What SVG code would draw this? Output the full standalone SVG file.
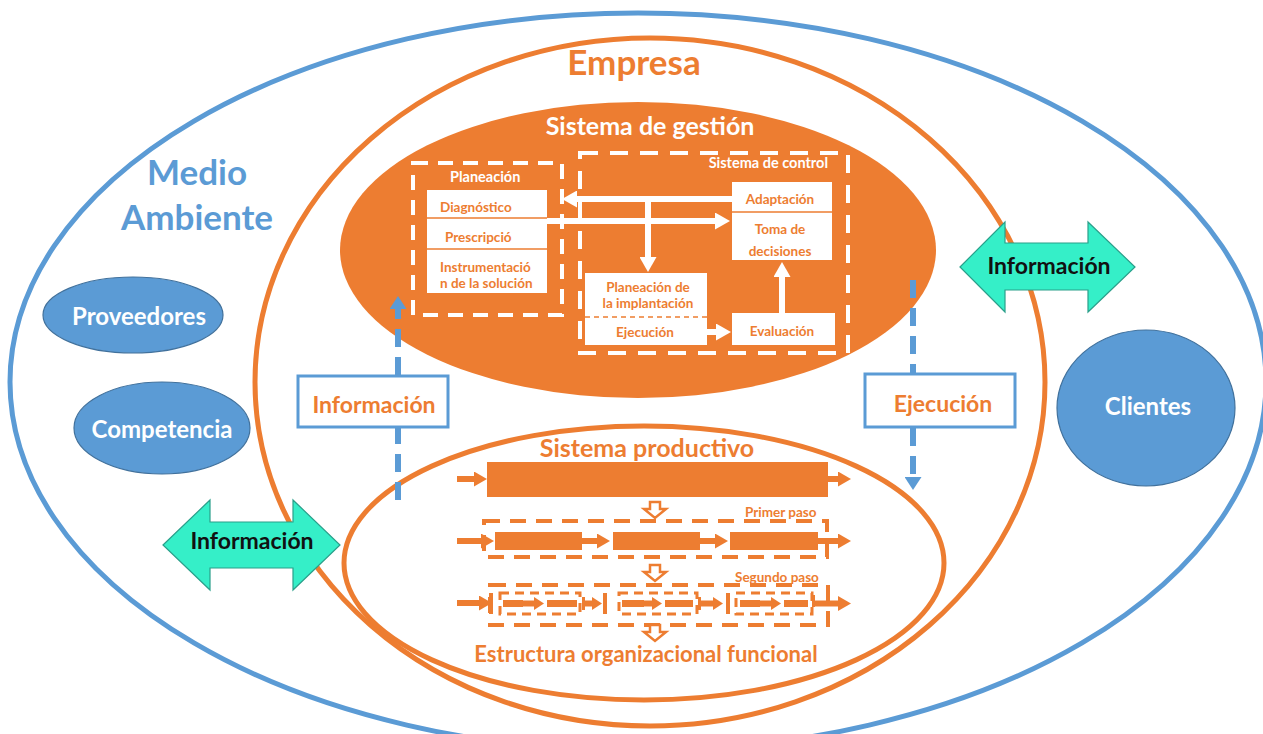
<svg xmlns="http://www.w3.org/2000/svg" width="1263" height="734" viewBox="0 0 1263 734">
<style>
text{font-family:"Lato","Liberation Sans",sans-serif;font-weight:bold}
.or{fill:#ED7D31}
.wh{fill:#ffffff}
.bl{fill:#5B9BD5}
.bk{fill:#111111}
.c{text-anchor:middle}
.wbox{fill:#ffffff;stroke:none}
.wdash{fill:none;stroke:#ffffff;stroke-width:4}
.odash{fill:none;stroke:#ED7D31;stroke-width:4;stroke-dasharray:16 10}
.oline{stroke:#ED7D31;stroke-width:6;fill:none}
.wline{stroke:#ffffff;stroke-width:6;fill:none}
.bdash{stroke:#5B9BD5;stroke-width:6;fill:none;stroke-dasharray:18 10}
.cyan{fill:#35EFC8;stroke:#2a9f8a;stroke-width:1.2}
.bell{fill:#5B9BD5;stroke:#41719C;stroke-width:1.2}
.hollow{fill:#ffffff;stroke:#ED7D31;stroke-width:2.5}
.obar{fill:#ED7D31}
</style>
<defs>
<marker id="wa" viewBox="0 0 10 10" refX="0" refY="5" markerWidth="15" markerHeight="17" markerUnits="userSpaceOnUse" preserveAspectRatio="none" orient="auto"><path d="M0,0 L10,5 L0,10 Z" fill="#ffffff"/></marker>
<marker id="oa" viewBox="0 0 10 10" refX="0" refY="5" markerWidth="13" markerHeight="15" markerUnits="userSpaceOnUse" preserveAspectRatio="none" orient="auto"><path d="M0,0 L10,5 L0,10 Z" fill="#ED7D31"/></marker>
<marker id="osa" viewBox="0 0 10 10" refX="0" refY="5" markerWidth="10" markerHeight="13" markerUnits="userSpaceOnUse" preserveAspectRatio="none" orient="auto"><path d="M0,0 L10,5 L0,10 Z" fill="#ED7D31"/></marker>
<marker id="ba" viewBox="0 0 10 10" refX="0" refY="5" markerWidth="13" markerHeight="17" markerUnits="userSpaceOnUse" preserveAspectRatio="none" orient="auto"><path d="M0,0 L10,5 L0,10 Z" fill="#5B9BD5"/></marker>
</defs>
<rect x="0" y="0" width="1263" height="734" fill="#ffffff"/>

<g id="medio-ambiente">
<ellipse cx="638" cy="382" rx="628" ry="369" fill="none" stroke="#5B9BD5" stroke-width="5"/>
<text class="bl c" x="197" y="185" font-size="35">Medio</text>
<text class="bl c" x="197" y="230" font-size="35">Ambiente</text>
</g>

<g id="empresa">
<ellipse cx="650" cy="382" rx="395" ry="344" fill="none" stroke="#ED7D31" stroke-width="5"/>
<text class="or c" x="634" y="75" font-size="35">Empresa</text>
</g>

<g id="proveedores">
<ellipse class="bell" cx="133" cy="315" rx="90" ry="38"/>
<text class="wh c" x="139" y="325" font-size="24">Proveedores</text>
</g>

<g id="competencia">
<ellipse class="bell" cx="162" cy="428" rx="88" ry="46"/>
<text class="wh c" x="162" y="438" font-size="24">Competencia</text>
</g>

<g id="clientes">
<ellipse class="bell" cx="1146" cy="408" rx="89" ry="78"/>
<text class="wh c" x="1148" y="415" font-size="24">Clientes</text>
</g>

<g id="sistema-gestion">
<ellipse cx="638" cy="250" rx="298" ry="148" fill="#ED7D31"/>
<text class="wh c" x="650" y="135" font-size="25">Sistema de gestión</text>
</g>

<g id="planeacion">
<rect class="wdash" x="413" y="163" width="149" height="152" stroke-dasharray="15 10"/>
<text class="wh" x="450" y="182" font-size="14.5">Planeación</text>
<rect class="wbox" x="427" y="190" width="120" height="103"/>
<line x1="427" y1="218" x2="547" y2="218" stroke="#ED7D31" stroke-width="1.5"/>
<line x1="427" y1="249" x2="547" y2="249" stroke="#ED7D31" stroke-width="1.5"/>
<text class="or" x="440" y="212" font-size="13.5">Diagnóstico</text>
<text class="or" x="445" y="242" font-size="13.5">Prescripció</text>
<text class="or" x="440" y="272" font-size="13.5">Instrumentació</text>
<text class="or" x="440" y="288" font-size="13.5">n de la solución</text>
</g>

<g id="sistema-control">
<rect class="wdash" x="580" y="153" width="268" height="200" stroke-dasharray="18 12"/>
<text class="wh" x="828" y="168" font-size="14.5" text-anchor="end">Sistema de control</text>
</g>

<g id="adaptacion-toma">
<rect class="wbox" x="732" y="182" width="100" height="78"/>
<line x1="732" y1="212" x2="832" y2="212" stroke="#ED7D31" stroke-width="1.5"/>
<text class="or c" x="780" y="204" font-size="13.5">Adaptación</text>
<text class="or c" x="780" y="234" font-size="13.5">Toma de</text>
<text class="or c" x="780" y="256" font-size="13.5">decisiones</text>
</g>

<g id="planeacion-implantacion">
<rect class="wbox" x="585" y="273" width="122" height="72"/>
<line x1="585" y1="317" x2="707" y2="317" stroke="#ED7D31" stroke-width="1.5" stroke-dasharray="5 4"/>
<text class="or c" x="648" y="292" font-size="13.5">Planeación de</text>
<text class="or c" x="648" y="308" font-size="13.5">la implantación</text>
<text class="or c" x="645" y="337" font-size="13.5">Ejecución</text>
</g>

<g id="evaluacion">
<rect class="wbox" x="732" y="313" width="103" height="32"/>
<text class="or c" x="782" y="336" font-size="13.5">Evaluación</text>
</g>

<g id="sistema-productivo">
<ellipse cx="644" cy="563" rx="300" ry="137" fill="none" stroke="#ED7D31" stroke-width="5"/>
<text class="or c" x="647" y="457" font-size="25">Sistema productivo</text>
<rect class="obar" x="487" y="462" width="341" height="35"/>
<path class="hollow" d="M650,502 H660 V509 H666 L655,518 L644,509 H650 Z"/>
<rect class="odash" x="484" y="521" width="343" height="36"/>
<text class="or" x="745" y="517" font-size="13.5">Primer paso</text>
<rect class="obar" x="495" y="532" width="87" height="18"/>
<rect class="obar" x="613" y="532" width="87" height="18"/>
<rect class="obar" x="730" y="532" width="88" height="18"/>
<path class="hollow" d="M650,565 H660 V572 H666 L655,581 L644,572 H650 Z"/>
<rect class="odash" x="490" y="585" width="338" height="40"/>
<text class="or" x="735" y="582" font-size="13.5">Segundo paso</text>
<rect x="500" y="593" width="80" height="21" fill="none" stroke="#ED7D31" stroke-width="3" stroke-dasharray="9 6"/>
<rect x="619" y="593" width="78" height="21" fill="none" stroke="#ED7D31" stroke-width="3" stroke-dasharray="9 6"/>
<rect x="736" y="593" width="76" height="21" fill="none" stroke="#ED7D31" stroke-width="3" stroke-dasharray="9 6"/>
<rect class="obar" x="503" y="600" width="20" height="7"/>
<rect class="obar" x="547" y="600" width="30" height="7"/>
<rect class="obar" x="622" y="600" width="22" height="7"/>
<rect class="obar" x="665" y="600" width="28" height="7"/>
<rect class="obar" x="740" y="600" width="20" height="7"/>
<rect class="obar" x="784" y="600" width="24" height="7"/>
<rect class="obar" x="489" y="593" width="4" height="21"/>
<rect class="obar" x="582" y="597" width="3" height="13"/>
<rect class="obar" x="603" y="593" width="4" height="21"/>
<rect class="obar" x="698" y="597" width="3" height="13"/>
<rect class="obar" x="726" y="593" width="4" height="21"/>
<rect class="obar" x="812" y="595" width="3" height="12"/>
<path class="hollow" d="M650,625 H660 V632 H666 L655,641 L644,632 H650 Z"/>
<text class="or c" x="646" y="662" font-size="22">Estructura organizacional funcional</text>
</g>

<g id="informacion-box">
<rect x="298" y="376" width="150" height="51" fill="#ffffff" stroke="#5B9BD5" stroke-width="3"/>
<text class="or c" x="374" y="413" font-size="23">Información</text>
</g>

<g id="ejecucion-box">
<rect x="865" y="374" width="150" height="53" fill="#ffffff" stroke="#5B9BD5" stroke-width="3"/>
<text class="or c" x="943" y="412" font-size="23">Ejecución</text>
</g>

<g id="connectors">
<line class="bdash" x1="398" y1="500" x2="398" y2="428"/>
<line class="bdash" x1="398" y1="375" x2="398" y2="309" marker-end="url(#ba)"/>
<line class="bdash" x1="913" y1="280" x2="913" y2="373"/>
<line class="bdash" x1="913" y1="428" x2="913" y2="477" marker-end="url(#ba)"/>
<line class="wline" x1="732" y1="199" x2="577" y2="199" marker-end="url(#wa)"/>
<line class="wline" x1="547" y1="221" x2="715" y2="221" marker-end="url(#wa)"/>
<line class="wline" x1="648" y1="199" x2="648" y2="257" marker-end="url(#wa)"/>
<line class="wline" x1="707" y1="332" x2="716" y2="332" marker-end="url(#wa)"/>
<line class="wline" x1="782" y1="313" x2="782" y2="277" marker-end="url(#wa)"/>
<line class="oline" x1="457" y1="479" x2="474" y2="479" marker-end="url(#oa)"/>
<line class="oline" x1="828" y1="479" x2="838" y2="479" marker-end="url(#oa)"/>
<line class="oline" x1="457" y1="541" x2="481" y2="541" marker-end="url(#oa)"/>
<line class="oline" x1="582" y1="541" x2="597" y2="541" marker-end="url(#oa)"/>
<line class="oline" x1="700" y1="541" x2="715" y2="541" marker-end="url(#oa)"/>
<line class="oline" x1="818" y1="541" x2="838" y2="541" marker-end="url(#oa)"/>
<line class="oline" x1="457" y1="603" x2="479" y2="603" marker-end="url(#oa)"/>
<line class="oline" x1="523" y1="603.5" x2="534" y2="603.5" marker-end="url(#osa)"/>
<line class="oline" x1="644" y1="603.5" x2="652" y2="603.5" marker-end="url(#osa)"/>
<line class="oline" x1="760" y1="603.5" x2="771" y2="603.5" marker-end="url(#osa)"/>
<line class="oline" x1="584" y1="603.5" x2="592" y2="603.5" marker-end="url(#osa)"/>
<line class="oline" x1="700" y1="603.5" x2="713" y2="603.5" marker-end="url(#osa)"/>
<line class="oline" x1="813" y1="603.5" x2="838" y2="603.5" marker-end="url(#oa)"/>
</g>

<g id="informacion-izq">
<polygon class="cyan" points="163,545 210,500 210,522 293,522 293,500 340,545 293,590 293,568 210,568 210,590"/>
<text class="bk c" x="252" y="549" font-size="23">Información</text>
</g>

<g id="informacion-der">
<polygon class="cyan" points="960,267 1005,222 1005,243 1088,243 1088,222 1135,267 1088,312 1088,290 1005,290 1005,312"/>
<text class="bk c" x="1049" y="274" font-size="23">Información</text>
</g>
</svg>
